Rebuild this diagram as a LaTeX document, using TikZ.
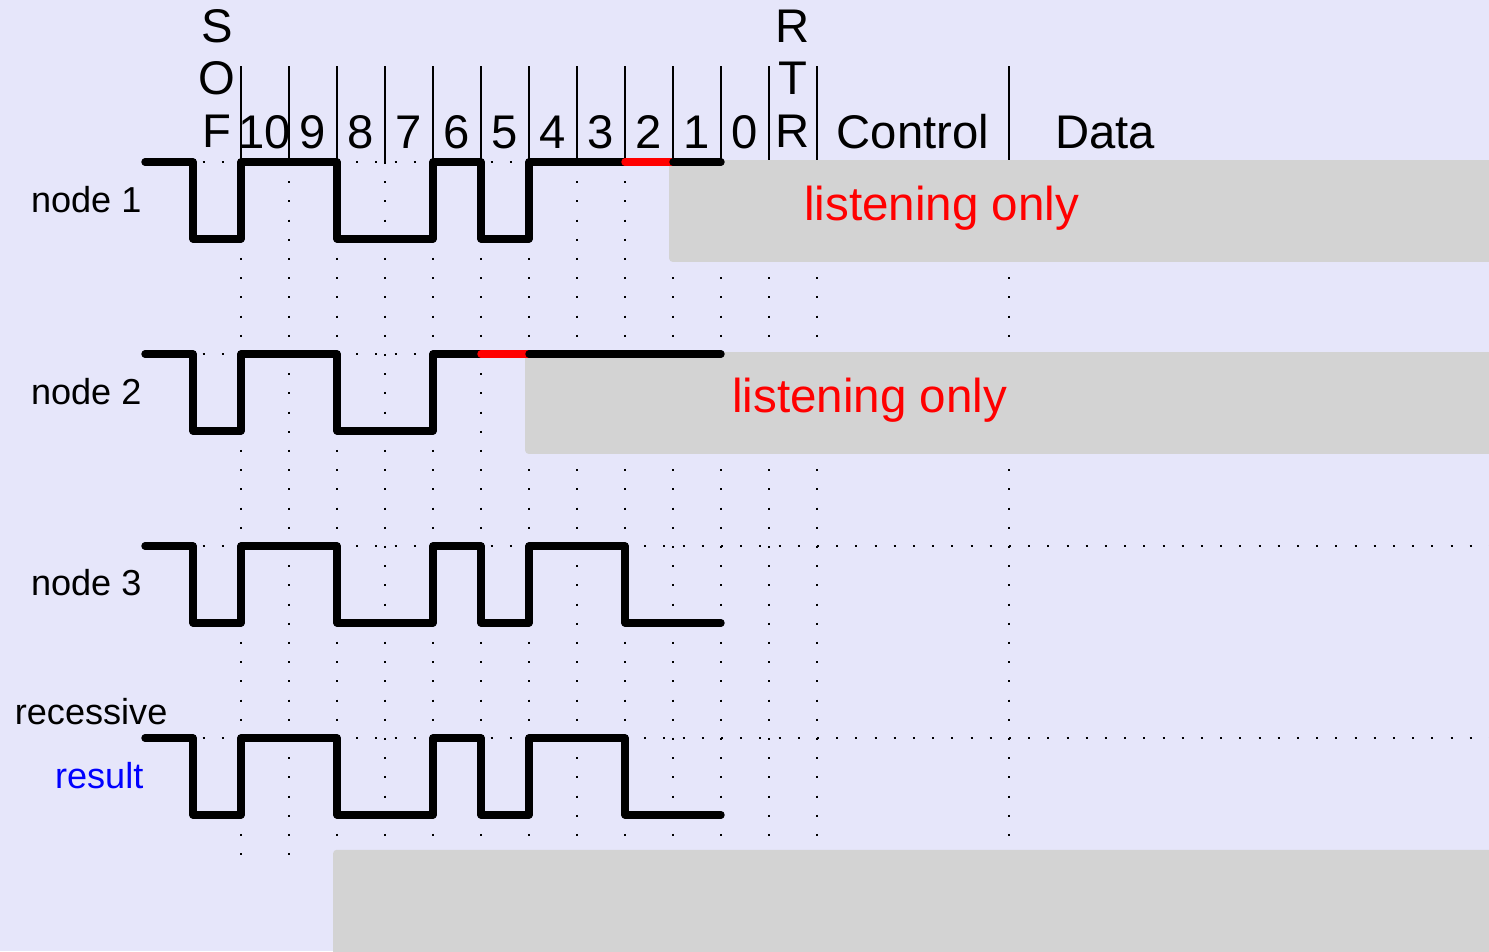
\documentclass[tikz,border=0pt]{standalone}
\usepackage{fontspec}
\setmainfont{Liberation Sans}
\definecolor{lavender}{HTML}{E6E6FA}
\definecolor{boxgray}{HTML}{D3D3D3}
\begin{document}
\begin{tikzpicture}[x=0.5cm,y=0.5cm,
    sig/.style={line width=2.2pt,line cap=round,line join=round},
    lost/.style={sig,red},
    gridln/.style={line width=0.6pt,dash pattern=on 0.6pt off 5.09pt},
    hdrln/.style={line width=0.5pt},
    hdr/.style={font=\fontsize{14}{15.6}\selectfont,inner sep=0pt},
    lbl/.style={font=\fontsize{10.7}{13}\selectfont,inner sep=0pt,anchor=east},
    listen/.style={font=\fontsize{14.1}{16}\selectfont,red,inner sep=0pt},
    busy/.style={fill=boxgray,rounded corners=1pt}]
  \useasboundingbox (-4.0208,3.375) rectangle (27,-16.4375);
  \clip (-4.0208,3.375) rectangle (27,-16.4375);
  \fill[lavender] (-4.0208,3.375) rectangle (27,-16.4375);

  \foreach \x in {1,...,13,17}
    \draw[gridln] (\x,2) -- (\x,-14.45);
  \foreach \y in {0,-4,-8,-12}
    \draw[gridln] (-1,\y) -- (28,\y);
  \foreach \x in {1,...,13,17}
    \draw[hdrln] (\x,2) -- (\x,0);

  \fill[busy] (9.92,0.04) rectangle (28,-2.08);
  \fill[busy] (6.92,-3.96) rectangle (28,-6.08);
  \fill[busy] (2.92,-14.33) rectangle (28,-17);

  \node[hdr,align=center,anchor=south] (sof) at (0.5,0.29) {S\\O\\F};
  \foreach \b [count=\k] in {10,9,8,7,6,5,4,3,2,1,0}
    \node[hdr,anchor=base] (b\b) at (\k+0.5,0.29) {\b};
  \node[hdr,align=center,anchor=south] (rtr) at (12.5,0.29) {R\\T\\R};
  \node[hdr,anchor=base] (ctrl) at (15,0.29) {Control};
  \node[hdr,anchor=base] (data) at (19,0.29) {Data};

  \node[lbl] (n1) at (-1.06,-0.79) {node 1};
  \node[lbl] (n2) at (-1.06,-4.79) {node 2};
  \node[lbl] (n3) at (-1.06,-8.77) {node 3};
  \node[lbl] (rec) at (-0.52,-11.44) {recessive};
  \node[lbl,blue] (res) at (-1.02,-12.79) {result};

  \draw[sig] (-1,0) -- (0,0) -- (0,-1.6) -- (1,-1.6) -- (1,0) -- (3,0) -- (3,-1.6)
    -- (5,-1.6) -- (5,0) -- (6,0) -- (6,-1.6) -- (7,-1.6) -- (7,0) -- (9,0);
  \draw[lost] (9,0) -- (10,0);
  \draw[sig] (10,0) -- (11,0);

  \draw[sig] (-1,-4) -- (0,-4) -- (0,-5.6) -- (1,-5.6) -- (1,-4) -- (3,-4) -- (3,-5.6)
    -- (5,-5.6) -- (5,-4) -- (6,-4);
  \draw[lost] (6,-4) -- (7,-4);
  \draw[sig] (7,-4) -- (11,-4);

  \foreach \y in {-8,-12}
    \draw[sig] (-1,\y) -- (0,\y) -- (0,\y-1.6) -- (1,\y-1.6) -- (1,\y) -- (3,\y)
      -- (3,\y-1.6) -- (5,\y-1.6) -- (5,\y) -- (6,\y) -- (6,\y-1.6) -- (7,\y-1.6)
      -- (7,\y) -- (9,\y) -- (9,\y-1.6) -- (11,\y-1.6);

  \node[listen] (lst1) at (15.6,-0.96) {listening only};
  \node[listen] (lst2) at (14.1,-4.96) {listening only};
\end{tikzpicture}
\end{document}
